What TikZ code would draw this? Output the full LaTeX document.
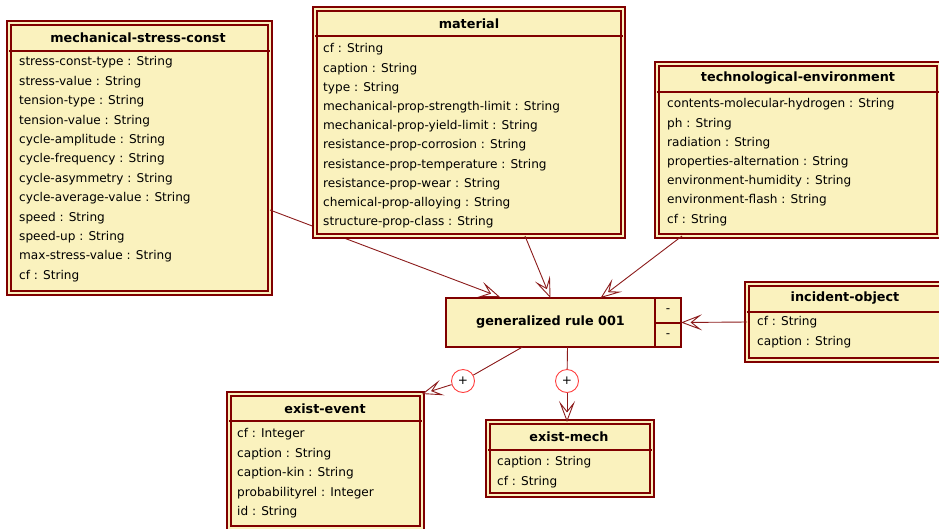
\documentclass[tikz,border=0pt]{standalone}
\usepackage{fontspec}
\setmainfont{DejaVu Sans}
\usetikzlibrary{arrows.meta,positioning,calc}
\definecolor{umlfill}{RGB}{250,242,190}
\definecolor{umlred}{RGB}{128,0,0}
\definecolor{linkred}{RGB}{140,28,28}
\definecolor{plusred}{RGB}{255,64,64}

\begin{document}
\begin{tikzpicture}[
	x=1pt, y=-1pt,
	font=\fontsize{12.1}{14}\selectfont,
	classbox/.style={draw=umlred, line width=1.8pt, double=umlfill, double distance=1.5pt, fill=umlfill, anchor=north west, inner sep=0pt, outer sep=0pt},
	classname/.style={font=\fontsize{12.8}{14}\selectfont\bfseries, inner sep=0pt},
	attr/.style={anchor=west, inner sep=0pt, text height=8.5pt, text depth=2.7pt},
	sep/.style={umlred, line width=2pt},
	rulebox/.style={draw=umlred, line width=2.2pt, fill=umlfill, anchor=north west, inner sep=0pt, outer sep=0pt},
	link/.style={linkred, line width=0.9pt, -{Stealth[open, length=21pt, width=16pt, inset=10pt]}},
	plus/.style={circle, draw=plusred, fill=white, line width=0.9pt, minimum size=23pt, inner sep=0pt},
	]
	\clip (0,0) rectangle (939,528);
	\fill[white] (0,0) rectangle (939,528);
	
	% Mechanical stress
	\node[classbox, minimum width=261, minimum height=270] (stress) at (9,23) {};
	\node[classname] (stress-name) at (138,38) {mechanical-stress-const};
	\draw[sep] (stress.west |- 0,51) -- (stress.east |- 0,51);
	\foreach \a [count=\i from 0] in {stress-const-type : String, stress-value : String, tension-type : String, tension-value : String, cycle-amplitude : String, cycle-frequency : String, cycle-asymmetry : String, cycle-average-value : String, speed : String, speed-up : String, max-stress-value : String, cf : String}
	{
		\node[attr] at (19,63+19.4*\i) {\a};
	}
	
	% this one runs behind the material box
	\draw[link] ([yshift=-52pt]stress.east) -- (500,297) coordinate (tipA);
	
	% Material
	\node[classbox, minimum width=308, minimum height=227] (material) at (315,9) {};
	\node[classname] (material-name) at (469,24) {material};
	\draw[sep] (material.west |- 0,36) -- (material.east |- 0,36);
	\foreach \a [count=\i from 0] in {cf : String, caption : String, type : String, mechanical-prop-strength-limit : String, mechanical-prop-yield-limit : String, resistance-prop-corrosion : String, resistance-prop-temperature : String, resistance-prop-wear : String, chemical-prop-alloying : String, structure-prop-class : String}
	{
		\node[attr] at (323,50+19.2*\i) {\a};
	}
	
	% Technological environment
	\node[classbox, minimum width=282, minimum height=172] (techenv) at (657,64) {};
	\node[classname] (techenv-name) at (798,78) {technological-environment};
	\draw[sep] (techenv.west |- 0,92) -- (techenv.east |- 0,92);
	\foreach \a [count=\i from 0] in {contents-molecular-hydrogen : String, ph : String, radiation : String, properties-alternation : String, environment-humidity : String, environment-flash : String, cf : String}
	{
		\node[attr] at (667,105+19.2*\i) {\a};
	}
	
	% Incident object
	\node[classbox, minimum width=196, minimum height=76] (incident) at (747,284) {};
	\node[classname] (incident-name) at (845,298) {incident-object};
	\draw[sep] (incident.west |- 0,312) -- (incident.east |- 0,312);
	\node[attr] at (757,323) {cf : String};
	\node[attr] at (757,343) {caption : String};
	
	% Rule
	\node[rulebox, minimum width=209, minimum height=49, font=\fontsize{12.8}{14}\selectfont\bfseries] (rule) at (446,298) {generalized rule 001};
	\node[rulebox, minimum width=26, minimum height=49, right=0pt of rule] (ops) {};
	\draw[umlred, line width=2pt] (ops.west) -- (ops.east);
	\node (op1) at ($(ops.center)+(0,-12)$) {-};
	\node (op2) at ($(ops.center)+(0,13)$) {-};
	
	% Exist event
	\node[classbox, minimum width=193, minimum height=134] (existevent) at (229,394) {};
	\node[classname] (existevent-name) at (325,409) {exist-event};
	\draw[sep] (existevent.west |- 0,421) -- (existevent.east |- 0,421);
	\foreach \a [count=\i from 0] in {cf : Integer, caption : String, caption-kin : String, probabilityrel : Integer, id : String}
	{
		\node[attr] at (237,435+19.5*\i) {\a};
	}
	
	% Exist mech
	\node[classbox, minimum width=164, minimum height=73] (existmech) at (488,422) {};
	\node[classname] (existmech-name) at (569,437) {exist-mech};
	\draw[sep] (existmech.west |- 0,450) -- (existmech.east |- 0,450);
	\node[attr] at (497,463) {caption : String};
	\node[attr] at (497,483) {cf : String};
	
	% Links into the rule
	\draw[link] ([xshift=56pt]material.south) -- (rule.north);
	\draw[link] ([xshift=25pt]techenv.south west) -- ([xshift=50pt]rule.north);
	\draw[link] (incident.west) -- (ops.east);
	
	% Links out of the rule
	\node[plus] (plusA) at (463,381) {+};
	\node[plus] (plusB) at (567,381) {+};
	\draw[linkred, line width=0.9pt] ([xshift=-28pt]rule.south) -- (plusA);
	\draw[link] (plusA) -- (existevent.north east);
	\draw[linkred, line width=0.9pt] ([xshift=17pt]rule.south) -- (plusB);
	\draw[link] (plusB) -- (plusB |- existmech.north);
	
\end{tikzpicture}
\end{document}
